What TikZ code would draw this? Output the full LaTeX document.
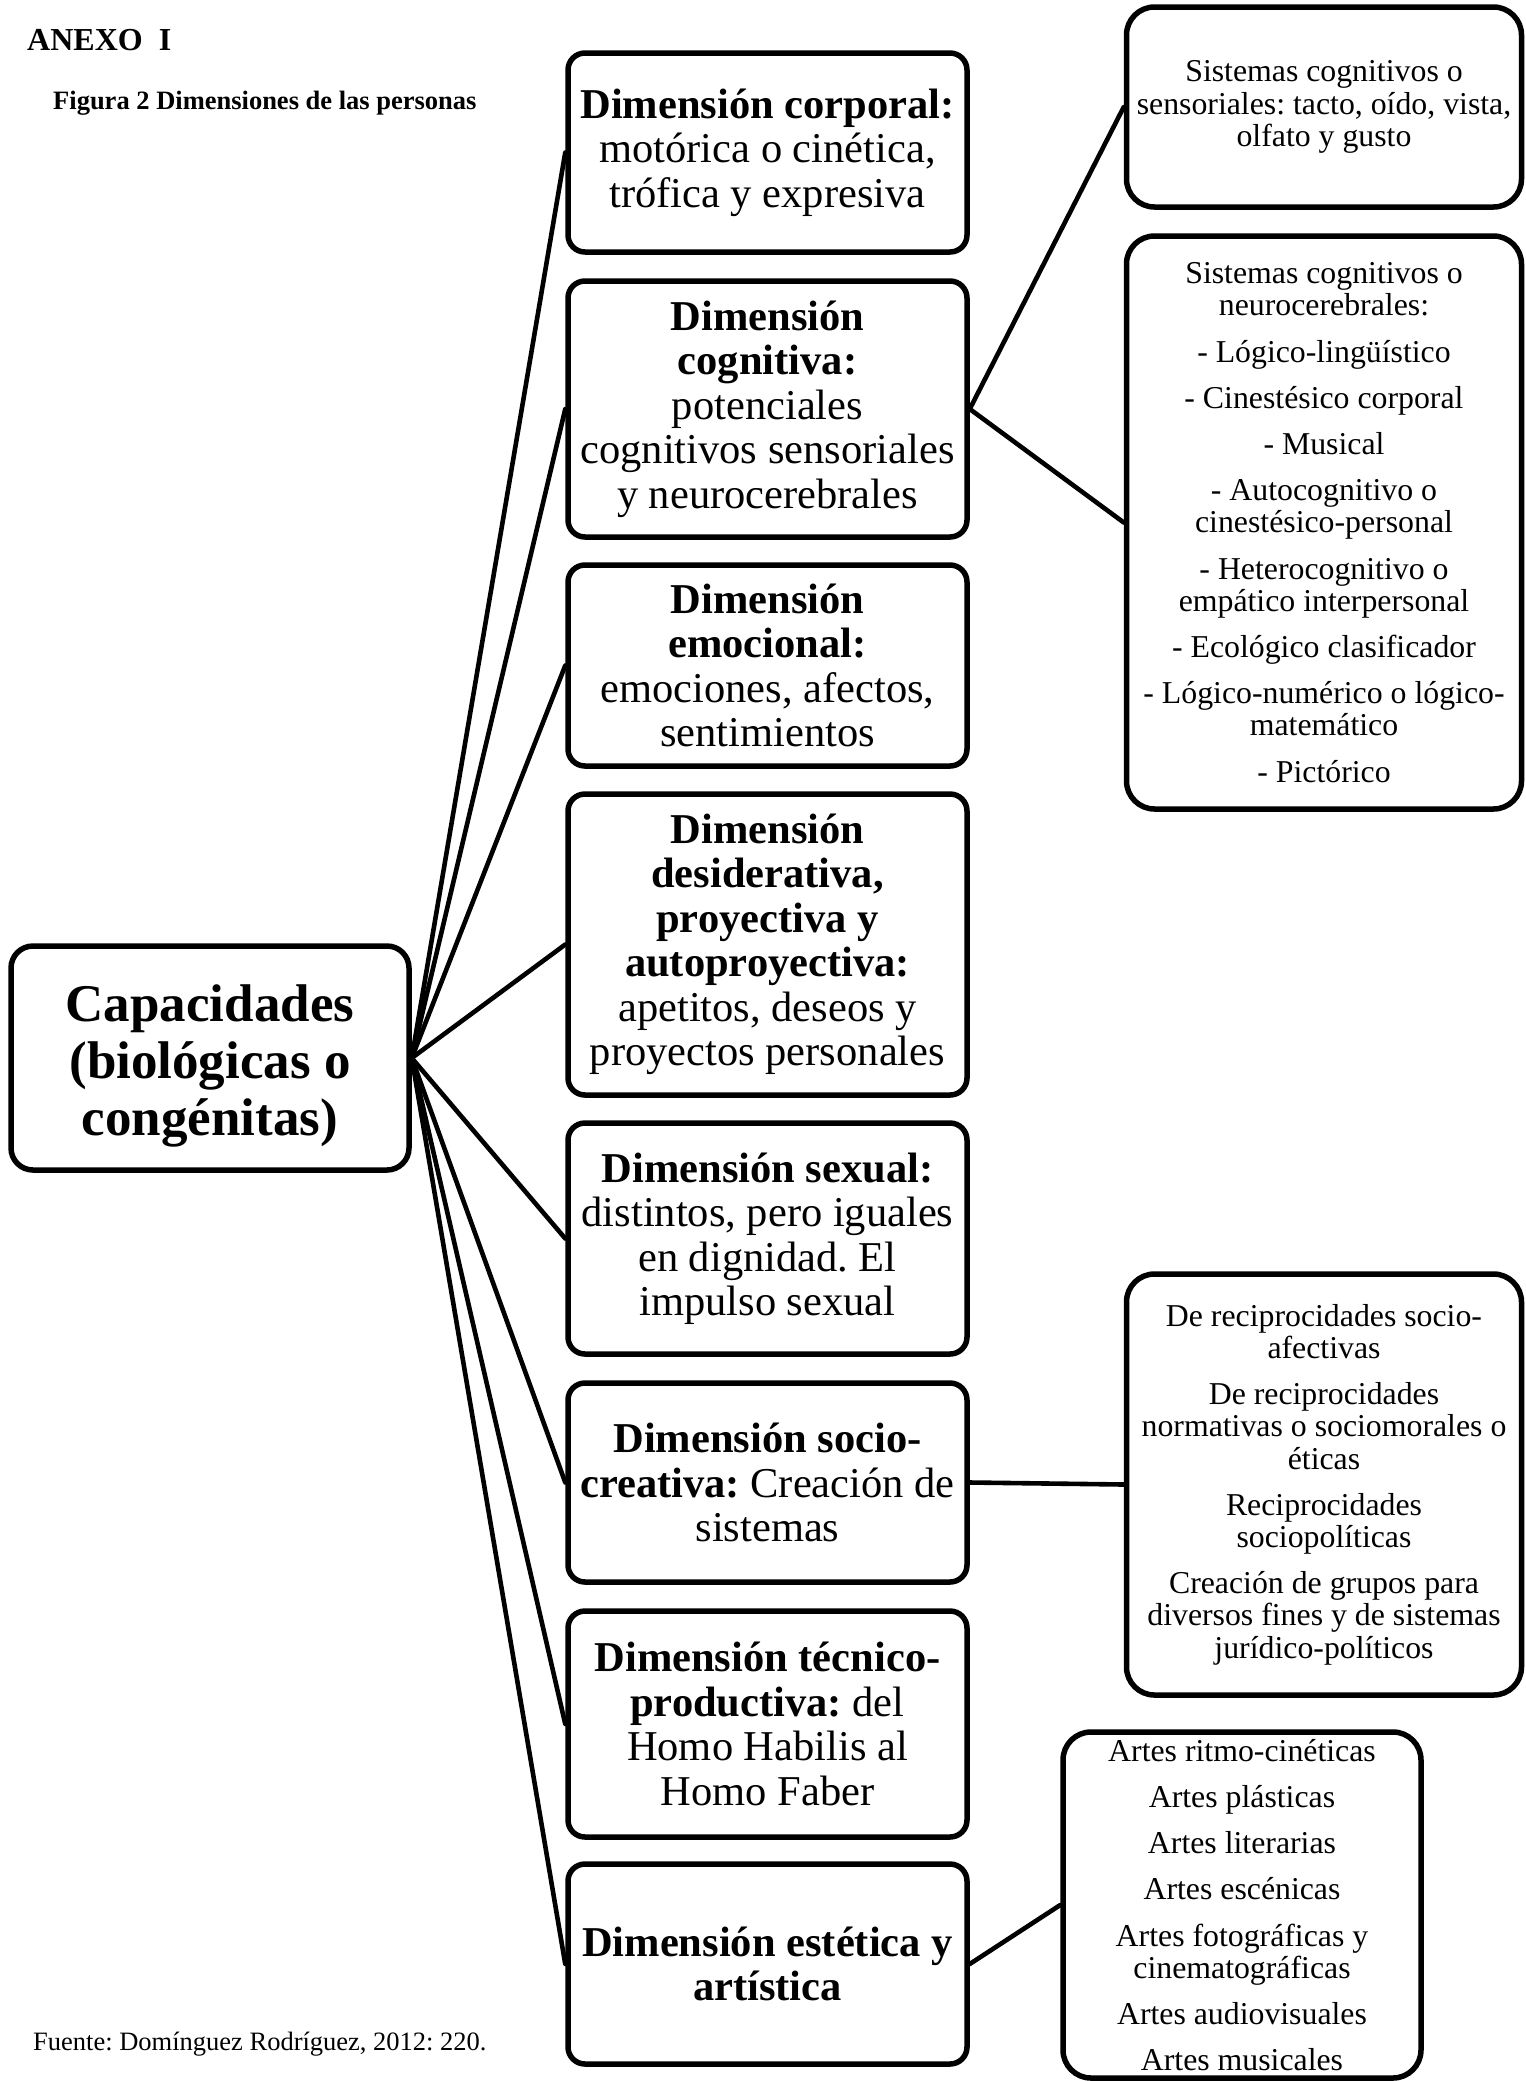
\documentclass[tikz,border=0pt]{standalone}
\usepackage{fontspec}
\setmainfont{Liberation Serif}
\frenchspacing
\begin{document}
\begin{tikzpicture}[x=1pt,y=-1pt,
  dimbox/.style={draw=black,line width=5.5pt,rounded corners=17pt,fill=white,
    minimum width=399pt,align=center,inner sep=0pt,
    font=\fontsize{42.5}{44.5}\selectfont},
  subbox/.style={draw=black,line width=5.5pt,rounded corners=28pt,fill=white,
    align=center,inner sep=0pt,
    font=\fontsize{31.8}{32.2}\selectfont},
  rootbox/.style={draw=black,line width=5.5pt,rounded corners=22pt,fill=white,
    minimum width=398pt,minimum height=224pt,inner sep=0pt},
  roottext/.style={align=center,inner sep=0pt,
    font=\fontsize{53}{57}\selectfont\bfseries},
  link/.style={line width=4.6pt,line cap=round},
  caption/.style={anchor=west,inner sep=0pt}]
\useasboundingbox (0,0) rectangle (1526,2081);

% headings and source line
\node[caption,font=\fontsize{32}{36}\selectfont\bfseries] (anexo) at (27,40) {ANEXO\ \ I};
\node[caption,font=\fontsize{26.5}{30}\selectfont\bfseries] (fig) at (53,103) {Figura 2 Dimensiones de las personas};
\node[caption,font=\fontsize{26.5}{30}\selectfont] (fuente) at (33,2044) {Fuente: Domínguez Rodríguez, 2012: 220.};

% central node
\node[rootbox] (root) at (210,1058) {};
\node[roottext] (rootlbl) at (210,1066) {Capacidades\\(biológicas o\\congénitas)};

% dimensions
\node[dimbox,minimum height=199pt] (d1) at (767.5,152.5)
  {\textbf{Dimensión corporal:}\\motórica o cinética,\\trófica y expresiva};
\node[dimbox,minimum height=256pt] (d2) at (767.5,409)
  {\textbf{Dimensión}\\\textbf{cognitiva:}\\potenciales\\cognitivos sensoriales\\y neurocerebrales};
\node[dimbox,minimum height=201pt] (d3) at (767.5,665.5)
  {\textbf{Dimensión}\\\textbf{emocional:}\\emociones, afectos,\\sentimientos};
\node[dimbox,minimum height=301pt] (d4) at (767.5,944.5)
  {\textbf{Dimensión}\\\textbf{desiderativa,}\\\textbf{proyectiva y}\\\textbf{autoproyectiva:}\\apetitos, deseos y\\proyectos personales};
\node[dimbox,minimum height=231pt] (d5) at (767.5,1238.5)
  {\textbf{Dimensión sexual:}\\distintos, pero iguales\\en dignidad. El\\impulso sexual};
\node[dimbox,minimum height=199pt] (d6) at (767.5,1482.5)
  {\textbf{Dimensión socio-}\\\textbf{creativa:} Creación de\\sistemas};
\node[dimbox,minimum height=226pt] (d7) at (767.5,1724)
  {\textbf{Dimensión técnico-}\\\textbf{productiva:} del\\Homo Habilis al\\Homo Faber};
\node[dimbox,minimum height=200pt] (d8) at (767.5,1964)
  {\textbf{Dimensión estética y}\\\textbf{artística}};

% detail boxes
\node[subbox,minimum width=395pt,minimum height=200pt] (sa) at (1324,107)
  {Sistemas cognitivos o\\sensoriales: tacto, oído, vista,\\olfato y gusto};
\node[subbox,minimum width=395pt,minimum height=573pt] (sb) at (1324,522.5)
  {Sistemas cognitivos o\\neurocerebrales:\\[14pt]
   - Lógico-lingüístico\\[14pt]
   - Cinestésico corporal\\[14pt]
   - Musical\\[14pt]
   - Autocognitivo o\\cinestésico-personal\\[14pt]
   - Heterocognitivo o\\empático interpersonal\\[14pt]
   - Ecológico clasificador\\[14pt]
   - Lógico-numérico o lógico-\\matemático\\[14pt]
   - Pictórico};
\node[subbox,minimum width=395pt,minimum height=421pt] (sc) at (1324,1484.5)
  {De reciprocidades socio-\\afectivas\\[14pt]
   De reciprocidades\\normativas o sociomorales o\\éticas\\[14pt]
   Reciprocidades\\sociopolíticas\\[14pt]
   Creación de grupos para\\diversos fines y de sistemas\\jurídico-políticos};
\node[subbox,minimum width=358pt,minimum height=346pt] (sd) at (1242,1905)
  {Artes ritmo-cinéticas\\[14pt]
   Artes plásticas\\[14pt]
   Artes literarias\\[14pt]
   Artes escénicas\\[14pt]
   Artes fotográficas y\\cinematográficas\\[14pt]
   Artes audiovisuales\\[14pt]
   Artes musicales};

% connectors
\foreach \d in {d1,d2,d3,d4,d5,d6,d7,d8}
  \draw[link] (root.east) -- (\d.west);
\draw[link] (d2.east) -- (sa.west);
\draw[link] (d2.east) -- (sb.west);
\draw[link] (d6.east) -- (sc.west);
\draw[link] (d8.east) -- (sd.west);
\end{tikzpicture}
\end{document}
